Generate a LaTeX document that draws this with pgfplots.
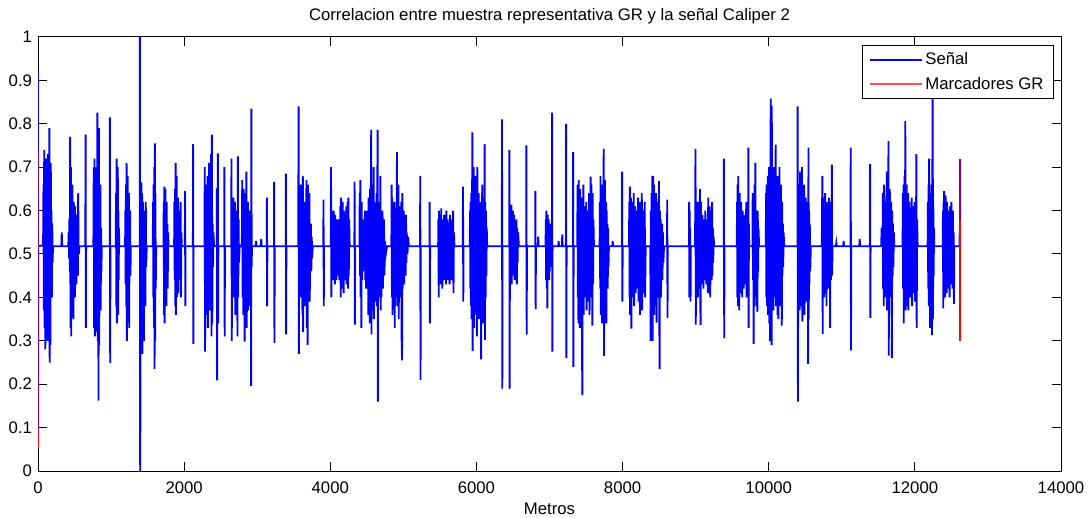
\documentclass[border=0pt]{standalone}
\usepackage{fontspec}
\setmainfont{Liberation Sans}
\usepackage{pgfplots}
\pgfplotsset{compat=1.18}
\begin{document}
\begin{tikzpicture}[font=\fontsize{12.6}{15}\selectfont]
\useasboundingbox (-28.5bp,-35.25bp) rectangle (788.25bp,353.25bp);
\begin{axis}[
  at={(0,0)}, anchor=south west,
  scale only axis, width=767.25bp, height=325.5bp,
  xmin=0, xmax=14000, ymin=0, ymax=1,
  xtick={0,2000,4000,6000,8000,10000,12000,14000},
  ytick={0,0.1,0.2,0.3,0.4,0.5,0.6,0.7,0.8,0.9,1},
  scaled x ticks=false,
  /pgf/number format/assume math mode=true,
  /pgf/number format/1000 sep={},
  tick align=inside, major tick length=7bp,
  axis line style={line width=0.75bp},
  every tick/.style={black, line width=0.75bp},
  xticklabel style={anchor=base, yshift=-17bp},
  yticklabel style={anchor=east, xshift=-1bp},
  title={Correlacion entre muestra representativa GR y la señal Caliper 2},
  title style={at={(0.5,1)}, anchor=base, yshift=6.5bp},
  xlabel={Metros},
  xlabel style={at={(0.5,0)}, anchor=base, yshift=-32.25bp},
  legend style={at={(1,1)}, anchor=north east, xshift=-5.25bp, yshift=-6bp,
    draw=black, line width=0.75bp, inner xsep=5.5bp, inner ysep=3.5bp, row sep=3.5bp,
    font=\fontsize{12.6}{15}\selectfont},
  legend cell align=left,
]
\addplot[blue, line width=1.4bp,
  legend image code/.code={\draw[blue, line width=1bp] (0bp,0bp) -- (38.7bp,0bp);}] coordinates {
(0,0.92)(0,0.086)(3,0.518)
(70,0.52)(75,0.66)(80,0.37)(85,0.74)(90,0.33)(95,0.68)(100,0.28)(105,0.72)(110,0.40)(115,0.69)(120,0.35)(125,0.62)(130,0.30)(135,0.73)(140,0.42)(145,0.66)(150,0.38)(155,0.79)(160,0.25)(165,0.58)(170,0.29)(175,0.71)(180,0.45)(185,0.60)(190,0.40)(195,0.57)(200,0.48)(205,0.518)
(320,0.518)(325,0.55)(330,0.518)
(415,0.518)(420,0.55)(425,0.49)(430,0.58)(435,0.46)(440,0.77)(445,0.33)(450,0.70)(455,0.31)(460,0.64)(465,0.38)(470,0.66)(475,0.42)(480,0.60)(485,0.35)(490,0.62)(495,0.44)(500,0.57)(505,0.40)(510,0.61)(515,0.47)(520,0.55)(525,0.43)(530,0.56)(535,0.48)(540,0.59)(545,0.45)(550,0.64)(555,0.52)(560,0.50)(566,0.518)
(648,0.518)(651,0.775)(655,0.33)(658,0.518)
(758,0.518)(763,0.70)(768,0.33)(773,0.72)(778,0.31)(783,0.64)(788,0.36)(793,0.70)(798,0.32)(803,0.59)(808,0.40)(813,0.826)(818,0.30)(823,0.68)(828,0.162)(833,0.79)(838,0.29)(843,0.60)(848,0.42)(853,0.66)(858,0.37)(863,0.56)(868,0.46)(872,0.518)
(981,0.518)(984,0.815)(988,0.249)(991,0.518)
(1064,0.518)(1068,0.64)(1072,0.38)(1076,0.72)(1080,0.34)(1084,0.66)(1088,0.40)(1092,0.70)(1096,0.36)(1100,0.60)(1104,0.44)(1108,0.56)(1112,0.518)
(1192,0.518)(1196,0.60)(1200,0.43)(1204,0.66)(1208,0.38)(1212,0.71)(1216,0.30)(1220,0.62)(1224,0.42)(1228,0.68)(1232,0.36)(1236,0.58)(1240,0.40)(1244,0.64)(1248,0.33)(1252,0.57)(1256,0.46)(1260,0.60)(1265,0.45)(1270,0.518)
(1392,0.518)(1395,1.2)(1399,-0.2)(1402,0.518)
(1405,0.60)(1410,0.40)(1415,0.665)(1420,0.35)(1425,0.64)(1430,0.27)(1435,0.62)(1440,0.42)(1445,0.59)(1450,0.30)(1455,0.60)(1460,0.44)(1465,0.56)(1470,0.38)(1475,0.62)(1480,0.47)(1488,0.518)
(1571,0.518)(1575,0.62)(1579,0.40)(1583,0.66)(1587,0.33)(1591,0.70)(1595,0.235)(1599,0.755)(1603,0.30)(1607,0.64)(1611,0.42)(1617,0.518)
(1717,0.518)(1721,0.62)(1725,0.36)(1729,0.655)(1733,0.34)(1737,0.60)(1741,0.40)(1745,0.65)(1749,0.44)(1753,0.58)(1757,0.38)(1761,0.62)(1765,0.45)(1770,0.57)(1775,0.42)(1780,0.55)(1786,0.518)
(1863,0.518)(1867,0.62)(1871,0.44)(1875,0.65)(1879,0.38)(1883,0.71)(1887,0.36)(1891,0.60)(1895,0.42)(1899,0.68)(1903,0.40)(1907,0.58)(1911,0.45)(1915,0.63)(1919,0.41)(1923,0.56)(1927,0.47)(1931,0.60)(1936,0.44)(1941,0.57)(1946,0.48)(1951,0.62)(1956,0.40)(1962,0.55)(1968,0.518)
(2010,0.518)(2012,0.645)(2016,0.38)(2019,0.518)
(2120,0.518)(2122,0.753)(2126,0.293)(2129,0.518)
(2279,0.518)(2282,0.70)(2286,0.275)(2290,0.58)(2295,0.44)(2300,0.66)(2305,0.36)(2310,0.62)(2315,0.40)(2320,0.68)(2325,0.33)(2330,0.56)(2335,0.45)(2340,0.71)(2345,0.37)(2350,0.60)(2355,0.42)(2360,0.64)(2365,0.39)(2370,0.73)(2375,0.31)(2380,0.775)(2385,0.34)(2390,0.57)(2395,0.47)(2400,0.55)(2410,0.518)(2446,0.518)(2448,0.651)(2451,0.209)(2455,0.518)(2460,0.518)(2462,0.732)(2465,0.34)(2468,0.518)
(2549,0.518)(2551,0.70)(2555,0.31)(2558,0.518)
(2644,0.518)(2648,0.72)(2652,0.30)(2656,0.60)(2660,0.44)(2665,0.58)(2670,0.40)(2675,0.63)(2680,0.46)(2685,0.56)(2690,0.42)(2695,0.62)(2700,0.36)(2705,0.57)(2710,0.45)(2715,0.60)(2720,0.43)(2725,0.55)(2730,0.31)(2735,0.725)(2740,0.40)(2745,0.58)(2750,0.48)(2760,0.52)(2770,0.518)(2790,0.518)(2795,0.67)(2800,0.40)(2805,0.62)(2810,0.36)(2815,0.65)(2820,0.44)(2825,0.58)(2828,0.298)(2832,0.60)(2837,0.38)(2842,0.64)(2847,0.42)(2852,0.69)(2857,0.33)(2862,0.60)(2867,0.41)(2872,0.62)(2877,0.37)(2882,0.58)(2887,0.44)(2892,0.56)(2897,0.38)(2902,0.60)(2907,0.43)(2912,0.55)(2917,0.196)(2920,0.835)(2924,0.47)(2928,0.518)
(2980,0.518)(2985,0.53)(2990,0.518)(3050,0.518)(3055,0.535)(3060,0.518)
(3130,0.518)(3132,0.63)(3136,0.38)(3139,0.518)
(3230,0.518)(3232,0.666)(3236,0.295)(3239,0.518)
(3390,0.518)(3392,0.685)(3396,0.315)(3399,0.518)
(3562,0.518)(3566,0.84)(3570,0.27)(3574,0.58)(3579,0.46)(3584,0.62)(3589,0.42)(3594,0.66)(3599,0.40)(3604,0.56)(3609,0.44)(3614,0.63)(3619,0.36)(3624,0.68)(3629,0.32)(3634,0.60)(3639,0.41)(3644,0.57)(3649,0.45)(3654,0.62)(3659,0.38)(3664,0.55)(3669,0.46)(3674,0.67)(3679,0.33)(3684,0.58)(3689,0.29)(3694,0.66)(3699,0.44)(3704,0.59)(3709,0.42)(3714,0.64)(3719,0.39)(3724,0.55)(3729,0.47)(3734,0.57)(3740,0.46)(3746,0.54)(3752,0.49)(3760,0.518)
(3905,0.518)(3907,0.625)(3911,0.38)(3914,0.518)
(4006,0.518)(4010,0.70)(4014,0.40)(4018,0.58)(4023,0.46)(4028,0.60)(4033,0.44)(4038,0.57)(4043,0.47)(4048,0.60)(4053,0.45)(4058,0.58)(4063,0.43)(4068,0.59)(4073,0.47)(4078,0.56)(4083,0.44)(4088,0.58)(4093,0.46)(4098,0.57)(4103,0.45)(4108,0.56)(4113,0.48)(4118,0.58)(4123,0.44)(4128,0.57)(4133,0.46)(4138,0.61)(4143,0.40)(4148,0.63)(4153,0.42)(4158,0.57)(4163,0.43)(4168,0.62)(4173,0.45)(4178,0.55)(4183,0.41)(4188,0.60)(4193,0.47)(4198,0.57)(4203,0.44)(4208,0.58)(4213,0.46)(4218,0.61)(4223,0.43)(4228,0.56)(4233,0.47)(4238,0.62)(4243,0.42)(4248,0.63)(4253,0.45)(4258,0.58)(4265,0.518)
(4330,0.518)(4332,0.667)(4336,0.337)(4339,0.518)
(4400,0.518)(4403,0.64)(4407,0.45)(4411,0.67)(4415,0.40)(4420,0.58)(4425,0.33)(4430,0.62)(4435,0.44)(4440,0.56)(4445,0.48)(4450,0.58)(4455,0.46)(4460,0.52)(4468,0.518)(4475,0.60)(4480,0.44)(4485,0.57)(4490,0.42)(4495,0.55)(4500,0.48)(4505,0.60)(4510,0.42)(4515,0.58)(4520,0.36)(4525,0.63)(4530,0.40)(4535,0.60)(4540,0.34)(4545,0.65)(4550,0.38)(4555,0.62)(4560,0.786)(4564,0.315)(4568,0.66)(4573,0.40)(4578,0.61)(4583,0.37)(4588,0.58)(4593,0.70)(4597,0.35)(4602,0.62)(4607,0.44)(4612,0.60)(4617,0.39)(4622,0.57)(4627,0.42)(4632,0.64)(4637,0.38)(4642,0.56)(4647,0.786)(4651,0.16)(4655,0.62)(4660,0.42)(4665,0.58)(4670,0.40)(4675,0.60)(4680,0.44)(4685,0.68)(4690,0.37)(4695,0.57)(4700,0.40)(4705,0.56)(4710,0.46)(4715,0.60)(4720,0.42)(4725,0.55)(4730,0.47)(4735,0.58)(4740,0.45)(4750,0.53)(4760,0.50)(4777,0.518)
(4836,0.518)(4840,0.66)(4844,0.40)(4848,0.63)(4852,0.36)(4857,0.60)(4862,0.44)(4867,0.58)(4872,0.42)(4877,0.62)(4882,0.33)(4887,0.57)(4892,0.45)(4897,0.60)(4902,0.40)(4907,0.56)(4913,0.735)(4917,0.38)(4922,0.60)(4927,0.44)(4932,0.66)(4937,0.35)(4942,0.58)(4947,0.43)(4952,0.61)(4957,0.40)(4962,0.57)(4967,0.45)(4972,0.62)(4977,0.30)(4982,0.255)(4986,0.64)(4991,0.42)(4996,0.57)(5001,0.46)(5006,0.60)(5011,0.43)(5016,0.58)(5021,0.47)(5026,0.56)(5031,0.45)(5036,0.59)(5041,0.48)(5046,0.55)(5056,0.50)(5066,0.54)(5074,0.518)
(5229,0.518)(5231,0.68)(5235,0.21)(5238,0.518)
(5357,0.518)(5359,0.62)(5363,0.34)(5366,0.518)
(5476,0.518)(5480,0.58)(5484,0.40)(5488,0.60)(5493,0.45)(5498,0.57)(5503,0.47)(5508,0.59)(5513,0.43)(5518,0.605)(5523,0.46)(5528,0.56)(5533,0.42)(5538,0.58)(5543,0.47)(5548,0.55)(5553,0.44)(5558,0.59)(5563,0.48)(5568,0.57)(5573,0.45)(5578,0.56)(5583,0.43)(5588,0.60)(5593,0.46)(5598,0.55)(5603,0.44)(5608,0.58)(5613,0.47)(5618,0.56)(5623,0.45)(5628,0.57)(5633,0.43)(5638,0.59)(5643,0.47)(5648,0.55)(5653,0.46)(5658,0.58)(5663,0.44)(5668,0.56)(5673,0.48)(5680,0.60)(5686,0.41)(5692,0.55)(5699,0.518)
(5814,0.518)(5816,0.655)(5820,0.39)(5823,0.518)
(5909,0.518)(5913,0.60)(5917,0.42)(5921,0.62)(5925,0.38)(5930,0.64)(5935,0.35)(5940,0.58)(5944,0.78)(5948,0.277)(5952,0.66)(5957,0.40)(5962,0.70)(5967,0.33)(5972,0.62)(5977,0.42)(5982,0.68)(5987,0.36)(5992,0.60)(5997,0.44)(6002,0.66)(6007,0.31)(6012,0.70)(6017,0.38)(6022,0.61)(6027,0.43)(6032,0.64)(6037,0.35)(6042,0.58)(6047,0.42)(6052,0.62)(6057,0.40)(6062,0.57)(6065,0.257)(6069,0.60)(6074,0.36)(6079,0.66)(6084,0.41)(6089,0.58)(6094,0.34)(6099,0.63)(6104,0.44)(6109,0.59)(6113,0.753)(6117,0.302)(6121,0.62)(6126,0.40)(6131,0.60)(6136,0.45)(6141,0.56)(6147,0.518)
(6348,0.518)(6350,0.81)(6354,0.19)(6357,0.518)
(6449,0.518)(6451,0.74)(6455,0.19)(6458,0.518)
(6467,0.518)(6471,0.60)(6475,0.44)(6479,0.614)(6483,0.43)(6488,0.58)(6493,0.47)(6498,0.60)(6503,0.45)(6508,0.56)(6513,0.48)(6518,0.59)(6523,0.44)(6528,0.57)(6533,0.47)(6538,0.55)(6543,0.45)(6548,0.58)(6553,0.43)(6558,0.56)(6563,0.48)(6570,0.55)(6581,0.518)
(6682,0.518)(6684,0.75)(6688,0.314)(6691,0.518)
(6805,0.518)(6807,0.645)(6811,0.373)(6814,0.518)
(6840,0.518)(6845,0.54)(6850,0.518)
(6946,0.518)(6950,0.58)(6954,0.44)(6958,0.60)(6962,0.42)(6966,0.57)(6970,0.375)(6974,0.59)(6978,0.45)(6982,0.56)(6986,0.47)(6990,0.58)(6994,0.44)(6998,0.55)(7002,0.46)(7006,0.57)(7010,0.47)(7014,0.518)(7033,0.518)(7035,0.826)(7039,0.275)(7042,0.518)
(7120,0.518)(7125,0.53)(7130,0.518)(7170,0.518)(7175,0.545)(7180,0.518)
(7225,0.518)(7227,0.80)(7231,0.26)(7234,0.518)
(7321,0.518)(7323,0.735)(7327,0.24)(7330,0.518)
(7380,0.518)(7384,0.66)(7388,0.40)(7392,0.62)(7396,0.34)(7400,0.67)(7405,0.42)(7410,0.60)(7415,0.33)(7420,0.65)(7425,0.44)(7430,0.58)(7435,0.38)(7440,0.63)(7445,0.30)(7449,0.175)(7453,0.60)(7458,0.43)(7463,0.66)(7468,0.36)(7473,0.61)(7478,0.42)(7483,0.59)(7488,0.46)(7493,0.56)(7498,0.40)(7503,0.62)(7508,0.37)(7513,0.58)(7518,0.44)(7523,0.60)(7528,0.39)(7533,0.57)(7538,0.45)(7543,0.64)(7548,0.36)(7553,0.60)(7558,0.42)(7563,0.678)(7568,0.40)(7573,0.66)(7578,0.44)(7583,0.62)(7587,0.335)(7591,0.64)(7596,0.43)(7601,0.58)(7608,0.518)
(7686,0.518)(7690,0.62)(7694,0.42)(7698,0.68)(7702,0.36)(7706,0.64)(7710,0.44)(7714,0.60)(7718,0.34)(7722,0.66)(7726,0.40)(7730,0.58)(7734,0.45)(7738,0.62)(7742,0.743)(7746,0.265)(7750,0.60)(7754,0.43)(7758,0.67)(7762,0.38)(7766,0.59)(7770,0.44)(7774,0.62)(7778,0.34)(7782,0.60)(7787,0.45)(7792,0.57)(7797,0.42)(7802,0.56)(7807,0.47)(7813,0.518)
(7860,0.518)(7865,0.53)(7870,0.518)
(7992,0.518)(7994,0.69)(7998,0.39)(8001,0.518)
(8088,0.518)(8092,0.62)(8096,0.40)(8100,0.655)(8104,0.36)(8108,0.60)(8112,0.44)(8116,0.63)(8120,0.328)(8124,0.58)(8128,0.45)(8133,0.62)(8138,0.40)(8143,0.57)(8148,0.46)(8153,0.64)(8158,0.38)(8163,0.59)(8168,0.43)(8173,0.61)(8178,0.41)(8183,0.56)(8188,0.47)(8193,0.60)(8198,0.42)(8203,0.57)(8208,0.44)(8213,0.63)(8218,0.39)(8223,0.58)(8228,0.45)(8233,0.60)(8238,0.36)(8243,0.62)(8248,0.43)(8253,0.56)(8258,0.40)(8263,0.64)(8268,0.37)(8273,0.58)(8278,0.44)(8283,0.60)(8288,0.41)(8293,0.55)(8298,0.46)(8303,0.62)(8308,0.40)(8316,0.518)
(8380,0.518)(8384,0.30)(8388,0.60)(8392,0.42)(8396,0.64)(8400,0.38)(8404,0.62)(8408,0.68)(8412,0.30)(8416,0.60)(8420,0.68)(8424,0.40)(8428,0.66)(8433,0.36)(8438,0.62)(8443,0.42)(8448,0.58)(8453,0.38)(8458,0.64)(8463,0.44)(8466,0.342)(8470,0.60)(8475,0.43)(8480,0.62)(8485,0.40)(8490,0.58)(8495,0.45)(8498,0.668)(8502,0.38)(8507,0.235)(8511,0.60)(8516,0.44)(8521,0.58)(8526,0.40)(8531,0.56)(8536,0.46)(8541,0.57)(8546,0.44)(8551,0.55)(8558,0.48)(8567,0.518)
(8609,0.518)(8611,0.625)(8615,0.353)(8618,0.518)
(8908,0.518)(8910,0.62)(8914,0.40)(8918,0.60)(8922,0.43)(8926,0.56)(8930,0.39)(8934,0.518)(8990,0.518)(8994,0.58)(8998,0.742)(9002,0.337)(9006,0.62)(9010,0.42)(9015,0.60)(9020,0.44)(9025,0.57)(9030,0.40)(9035,0.62)(9040,0.45)(9045,0.58)(9050,0.42)(9055,0.60)(9060,0.65)(9064,0.38)(9068,0.336)(9072,0.62)(9077,0.45)(9082,0.56)(9087,0.43)(9092,0.59)(9097,0.46)(9102,0.57)(9107,0.42)(9112,0.58)(9117,0.45)(9122,0.55)(9127,0.44)(9132,0.60)(9137,0.47)(9142,0.56)(9147,0.43)(9152,0.58)(9157,0.46)(9162,0.55)(9167,0.41)(9172,0.63)(9177,0.45)(9182,0.56)(9187,0.44)(9192,0.61)(9197,0.42)(9200,0.40)(9205,0.60)(9210,0.46)(9215,0.58)(9220,0.44)(9225,0.62)(9230,0.45)(9235,0.56)(9240,0.48)(9246,0.54)(9252,0.518)
(9385,0.518)(9387,0.72)(9391,0.306)(9394,0.518)
(9563,0.518)(9567,0.62)(9571,0.40)(9575,0.66)(9579,0.38)(9583,0.68)(9587,0.42)(9592,0.60)(9597,0.37)(9602,0.64)(9607,0.44)(9612,0.58)(9617,0.41)(9622,0.62)(9627,0.45)(9632,0.56)(9637,0.40)(9642,0.60)(9647,0.46)(9652,0.57)(9657,0.42)(9662,0.59)(9667,0.44)(9672,0.55)(9677,0.47)(9682,0.58)(9687,0.43)(9692,0.62)(9697,0.40)(9702,0.60)(9707,0.45)(9712,0.56)(9717,0.42)(9721,0.745)(9725,0.33)(9729,0.57)(9732,0.518)
(9777,0.518)(9781,0.64)(9785,0.44)(9789,0.62)(9793,0.293)(9797,0.60)(9801,0.42)(9805,0.66)(9809,0.38)(9813,0.62)(9818,0.71)(9822,0.40)(9827,0.60)(9832,0.44)(9837,0.58)(9842,0.38)(9846,0.367)(9850,0.60)(9855,0.46)(9860,0.56)(9868,0.518)
(9960,0.518)(9964,0.64)(9968,0.40)(9972,0.66)(9976,0.38)(9980,0.62)(9984,0.44)(9988,0.68)(9992,0.36)(9996,0.60)(10000,0.42)(10004,0.70)(10008,0.34)(10012,0.62)(10016,0.40)(10019,0.299)(10023,0.66)(10028,0.858)(10032,0.36)(10036,0.64)(10040,0.29)(10042,0.842)(10046,0.38)(10050,0.66)(10055,0.42)(10060,0.62)(10065,0.37)(10070,0.70)(10075,0.40)(10080,0.63)(10085,0.44)(10090,0.67)(10096,0.752)(10100,0.38)(10105,0.62)(10110,0.43)(10115,0.68)(10120,0.36)(10125,0.60)(10130,0.42)(10133,0.35)(10137,0.64)(10142,0.45)(10147,0.70)(10152,0.38)(10157,0.60)(10162,0.44)(10167,0.66)(10172,0.40)(10176,0.58)(10179,0.335)(10183,0.62)(10188,0.45)(10193,0.57)(10198,0.47)(10204,0.55)(10211,0.518)
(10394,0.518)(10396,0.84)(10400,0.16)(10404,0.60)(10408,0.44)(10412,0.66)(10416,0.40)(10420,0.62)(10424,0.37)(10428,0.69)(10432,0.42)(10436,0.60)(10440,0.45)(10445,0.64)(10450,0.38)(10455,0.70)(10460,0.345)(10465,0.62)(10470,0.43)(10475,0.58)(10480,0.40)(10485,0.66)(10490,0.36)(10495,0.60)(10500,0.44)(10505,0.63)(10510,0.39)(10515,0.58)(10520,0.46)(10525,0.62)(10530,0.40)(10535,0.56)(10540,0.247)(10544,0.745)(10548,0.35)(10552,0.60)(10557,0.43)(10562,0.57)(10568,0.46)(10576,0.518)
(10727,0.518)(10731,0.62)(10735,0.68)(10739,0.316)(10743,0.60)(10747,0.44)(10752,0.63)(10757,0.40)(10762,0.58)(10767,0.45)(10772,0.64)(10777,0.41)(10782,0.57)(10787,0.46)(10791,0.38)(10795,0.62)(10800,0.43)(10805,0.60)(10810,0.45)(10815,0.56)(10820,0.42)(10825,0.63)(10830,0.46)(10835,0.58)(10841,0.33)(10845,0.62)(10850,0.44)(10855,0.57)(10860,0.47)(10864,0.706)(10868,0.45)(10873,0.518)
(10920,0.518)(10925,0.525)(10930,0.518)(11020,0.518)(11025,0.53)(11030,0.518)
(11120,0.518)(11122,0.745)(11126,0.278)(11129,0.518)
(11240,0.518)(11245,0.535)(11250,0.518)
(11385,0.518)(11387,0.707)(11391,0.353)(11394,0.518)
(11540,0.518)(11545,0.56)(11550,0.518)(11558,0.518)(11562,0.64)(11566,0.42)(11570,0.60)(11574,0.38)(11578,0.66)(11582,0.44)(11586,0.62)(11590,0.40)(11595,0.58)(11600,0.45)(11605,0.62)(11610,0.42)(11615,0.69)(11620,0.37)(11625,0.60)(11630,0.44)(11635,0.58)(11639,0.76)(11643,0.266)(11647,0.60)(11652,0.42)(11657,0.65)(11662,0.40)(11667,0.58)(11672,0.45)(11677,0.62)(11682,0.38)(11686,0.26)(11690,0.60)(11695,0.45)(11700,0.57)(11706,0.47)(11712,0.55)(11718,0.518)
(11832,0.518)(11836,0.64)(11840,0.42)(11844,0.66)(11848,0.34)(11852,0.62)(11856,0.40)(11860,0.68)(11864,0.44)(11869,0.806)(11873,0.37)(11877,0.62)(11882,0.42)(11887,0.66)(11892,0.38)(11897,0.60)(11902,0.44)(11907,0.64)(11912,0.37)(11917,0.58)(11922,0.45)(11927,0.62)(11932,0.40)(11937,0.57)(11942,0.46)(11947,0.60)(11952,0.42)(11957,0.63)(11962,0.38)(11967,0.58)(11972,0.44)(11977,0.61)(11982,0.41)(11987,0.56)(11992,0.46)(11997,0.62)(12002,0.39)(12007,0.57)(12012,0.45)(12017,0.60)(12021,0.73)(12025,0.33)(12030,0.58)(12038,0.518)
(12175,0.518)(12179,0.62)(12183,0.42)(12187,0.66)(12191,0.38)(12195,0.72)(12199,0.40)(12203,0.62)(12207,0.33)(12211,0.64)(12215,0.44)(12220,0.60)(12225,0.40)(12230,0.66)(12235,0.313)(12240,0.70)(12244,0.90)(12248,0.35)(12252,0.62)(12257,0.45)(12262,0.56)(12266,0.518)
(12381,0.518)(12385,0.60)(12389,0.375)(12393,0.62)(12397,0.42)(12401,0.645)(12405,0.44)(12410,0.60)(12415,0.40)(12420,0.635)(12425,0.45)(12430,0.58)(12435,0.41)(12440,0.62)(12445,0.46)(12450,0.57)(12455,0.42)(12460,0.60)(12465,0.44)(12470,0.56)(12475,0.40)(12480,0.61)(12485,0.45)(12490,0.58)(12495,0.43)(12500,0.62)(12505,0.46)(12510,0.56)(12515,0.42)(12520,0.60)(12525,0.47)(12530,0.55)(12535,0.385)(12540,0.518)
(12610,0.518)(12618,0.578)(12620,0.718)(12621,0.578)
};
\addlegendentry{Señal}
\addplot[red, line width=1.4bp,
  legend image code/.code={\draw[red!70!white, line width=1bp] (0bp,0bp) -- (38.7bp,0bp);}] coordinates {(0,0.052)(0,0.086)};
\addlegendentry{Marcadores GR}
\addplot[red!55!blue, line width=1.4bp, forget plot] coordinates {(0,0.086)(0,0.74)};
\addplot[red, line width=1.4bp, forget plot] coordinates {(12620,0.30)(12620,0.578)};
\addplot[red!55!blue, line width=1.4bp, forget plot] coordinates {(12620,0.578)(12620,0.718)};
\end{axis}
\end{tikzpicture}
\end{document}
